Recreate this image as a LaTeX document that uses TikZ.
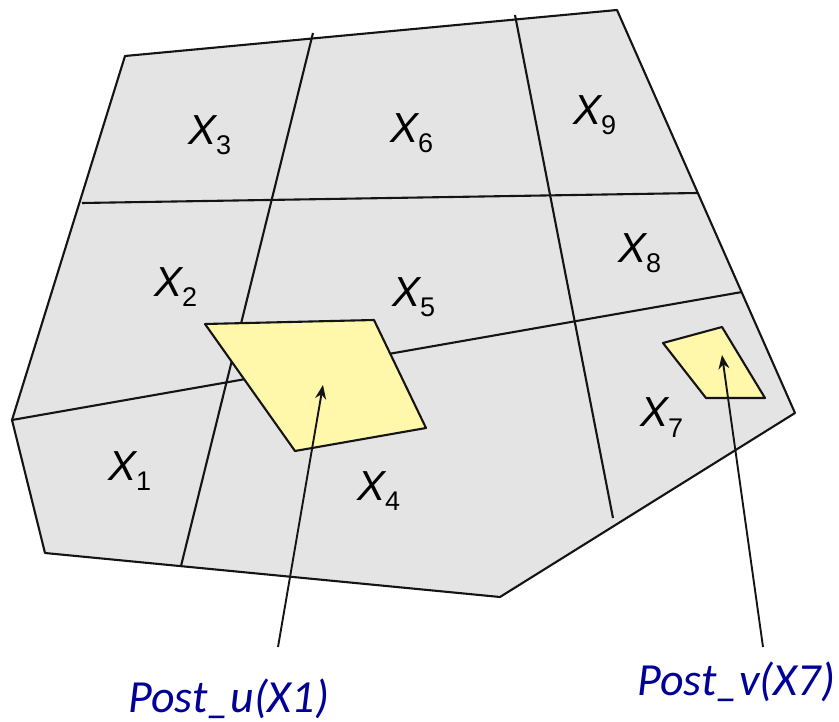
\documentclass[tikz,border=0pt]{standalone}
\usepackage{fontspec}
\setmainfont{Liberation Sans}
\newfontfamily\calib{Carlito}
\usetikzlibrary{arrows.meta}
\definecolor{cellgray}{RGB}{228,228,228}
\definecolor{paleyellow}{RGB}{255,247,170}
\definecolor{labelblue}{RGB}{0,0,150}
\definecolor{edgeblack}{RGB}{20,20,20}
\newcommand{\cellname}[1]{X\raisebox{-10pt}{\fontsize{27}{27}\selectfont\upshape #1}}
\begin{document}
\begin{tikzpicture}[x=1pt,y=-1pt,line join=round,
  edge/.style={draw=edgeblack,line width=2.1pt},
  patch/.style={fill=paleyellow,draw=edgeblack,line width=2.1pt},
  xlab/.style={inner sep=0pt,anchor=base west,font=\fontsize{42}{42}\selectfont\itshape},
  postlab/.style={inner sep=0pt,anchor=base west,text=labelblue,font=\calib\itshape\fontsize{46}{46}\selectfont},
  pointer/.style={draw=edgeblack,line width=1.9pt,-{Stealth[length=14pt,width=11pt]}}]
\useasboundingbox (0,0) rectangle (839,722);
% outer region
\coordinate (o1) at (125,56);
\coordinate (o2) at (617,10);
\coordinate (o3) at (795,413);
\coordinate (o4) at (500,597);
\coordinate (o5) at (45,553);
\coordinate (o6) at (12,420);
\fill[cellgray] (o1) -- (o2) -- (o3) -- (o4) -- (o5) -- (o6) -- cycle;
% grid lines
\coordinate (v1t) at (313,33);
\coordinate (v1b) at (181,566);
\coordinate (v2t) at (515,15);
\coordinate (v2b) at (613,518);
\coordinate (h1l) at (82,203);
\coordinate (h1r) at (697,193);
\coordinate (h2r) at (742,292);
\draw[edge] (v1t) -- (v1b);
\draw[edge] (v2t) -- (v2b);
\draw[edge] (h1l) -- (h1r);
\draw[edge] (o6) -- (h2r);
\draw[edge] (o1) -- (o2) -- (o3) -- (o4) -- (o5) -- (o6) -- cycle;
% yellow patches
\coordinate (a1) at (205,324);
\coordinate (a2) at (374,320);
\coordinate (a3) at (426,428);
\coordinate (a4) at (295,451);
\draw[patch] (a1) -- (a2) -- (a3) -- (a4) -- cycle;
\coordinate (b1) at (663,343);
\coordinate (b2) at (722,327);
\coordinate (b3) at (765,398);
\coordinate (b4) at (706,398);
\draw[patch] (b1) -- (b2) -- (b3) -- (b4) -- cycle;
% cell labels
\node[xlab] (x1) at (108,480) {\cellname{1}};
\node[xlab] (x2) at (154,297) {\cellname{2}};
\node[xlab] (x3) at (188,145) {\cellname{3}};
\node[xlab] (x4) at (357,500) {\cellname{4}};
\node[xlab] (x5) at (392,307) {\cellname{5}};
\node[xlab] (x6) at (390,143) {\cellname{6}};
\node[xlab] (x7) at (640,427) {\cellname{7}};
\node[xlab] (x8) at (618,263) {\cellname{8}};
\node[xlab] (x9) at (573,125) {\cellname{9}};
% pointers
\coordinate (p1s) at (278,647);
\coordinate (p1e) at (323,385);
\coordinate (p2s) at (763,647);
\coordinate (p2e) at (722,355);
\draw[pointer] (p1s) -- (p1e);
\draw[pointer] (p2s) -- (p2e);
% bottom labels
\node[postlab] (lu) at (128,712) {Post\_u(X1)};
\node[postlab] (lv) at (637,695) {Post\_v(X7)};
\end{tikzpicture}
\end{document}
